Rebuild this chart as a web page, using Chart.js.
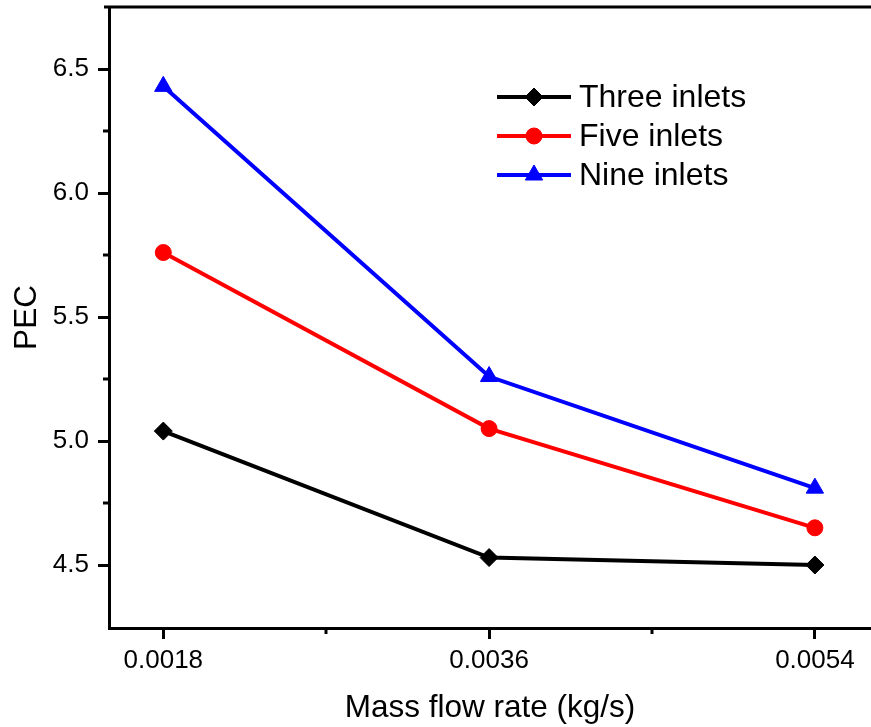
<!DOCTYPE html>
<html>
<head>
<meta charset="utf-8">
<script src="https://cdn.jsdelivr.net/npm/chart.js@4.4.1/dist/chart.umd.min.js"></script>
<style>
	html, body { margin: 0; padding: 0; background: #fff; overflow: hidden; }
	#wrap { width: 871px; height: 727px; position: relative; }
	#chart { display: block; }
</style>
</head>
<body>
<div id="wrap"><canvas id="chart"></canvas></div>
<script>
	// data
	var flowRates = [0.0018, 0.0036, 0.0054];
	var threeInlets = [5.04, 4.53, 4.50];
	var fiveInlets = [5.76, 5.05, 4.65];
	var nineInlets = [6.43, 5.26, 4.81];
	var seriesNames = ['Three inlets', 'Five inlets', 'Nine inlets'];
	var yTicks = [4.5, 5.0, 5.5, 6.0, 6.5];
	var yMinorTicks = [4.75, 5.25, 5.75, 6.25];
	var xMinorTicks = [0.0027, 0.0045];

	var fontFamily = '"Liberation Sans", Arial, sans-serif';

	function toPoints(values) {
		return flowRates.map(function (x, i) {
			return { x: x, y: values[i] };
		});
	}

	function makeSeries(label, values, color, style, radius) {
		return {
			label: label,
			data: toPoints(values),
			borderColor: color,
			backgroundColor: color,
			borderWidth: 4,
			pointStyle: style,
			pointRadius: radius,
			pointHoverRadius: radius,
			pointBorderWidth: 1,
			tension: 0
		};
	}

	/**
	 * Frame top line and minor ticks
	 */
	var framePlugin = {
		id: 'frame',
		afterDraw: function (chart) {
			var ctx = chart.ctx,
				area = chart.chartArea,
				xs = chart.scales.x,
				ys = chart.scales.y;

			ctx.save();
			ctx.strokeStyle = '#000';
			ctx.lineWidth = 3;
			ctx.lineCap = 'butt';

			ctx.beginPath();
			ctx.moveTo(area.left - 5, area.top);
			ctx.lineTo(area.right, area.top);
			ctx.stroke();

			yMinorTicks.forEach(function (v) {
				var py = Math.round(ys.getPixelForValue(v));
				ctx.beginPath();
				ctx.moveTo(area.left, py);
				ctx.lineTo(area.left - 6, py);
				ctx.stroke();
			});

			xMinorTicks.forEach(function (v) {
				var px = Math.round(xs.getPixelForValue(v));
				ctx.beginPath();
				ctx.moveTo(px, area.bottom);
				ctx.lineTo(px, area.bottom + 6);
				ctx.stroke();
			});
			ctx.restore();
		}
	};

	/**
	 * Legend drawn inside the plot, line plus marker
	 */
	var legendPlugin = {
		id: 'insideLegend',
		afterDraw: function (chart) {
			var ctx = chart.ctx,
				startY = 97,
				rowGap = 39;

			ctx.save();
			chart.data.datasets.forEach(function (ds, i) {
				var y = startY + i * rowGap;

				ctx.strokeStyle = ds.borderColor;
				ctx.lineWidth = 4;
				ctx.beginPath();
				ctx.moveTo(497, y);
				ctx.lineTo(571, y);
				ctx.stroke();

				ctx.fillStyle = ds.backgroundColor;
				ctx.strokeStyle = ds.borderColor;
				ctx.lineWidth = 1;
				Chart.helpers.drawPoint(ctx, {
					pointStyle: ds.pointStyle,
					rotation: 0,
					radius: ds.pointRadius,
					borderWidth: 1
				}, 534, y);

				ctx.fillStyle = '#000';
				ctx.font = '32px ' + fontFamily;
				ctx.textBaseline = 'middle';
				ctx.textAlign = 'left';
				ctx.fillText(ds.label, 579, y + 1);
			});
			ctx.restore();
		}
	};

	new Chart(document.getElementById('chart'), {
		type: 'line',
		data: {
			datasets: [
				makeSeries(seriesNames[0], threeInlets, '#000000', 'rectRot', 9),
				makeSeries(seriesNames[1], fiveInlets, '#ff0000', 'circle', 8),
				makeSeries(seriesNames[2], nineInlets, '#0000ff', 'triangle', 10)
			]
		},
		options: {
			responsive: true,
			maintainAspectRatio: false,
			animation: false,
			layout: {
				autoPadding: false,
				padding: { top: 7, right: 0, left: 0, bottom: 0 }
			},
			plugins: {
				legend: { display: false },
				tooltip: { enabled: false }
			},
			scales: {
				x: {
					type: 'linear',
					min: 0.0015,
					max: 0.00571,
					afterBuildTicks: function (scale) {
						scale.ticks = flowRates.map(function (v) { return { value: v }; });
					},
					afterFit: function (scale) {
						scale.height = 99;
						scale.paddingLeft = 0;
						scale.paddingRight = 0;
					},
					ticks: {
						color: '#000',
						padding: 6,
						maxRotation: 0,
						font: { family: fontFamily, size: 26 },
						callback: function (v) { return Number(v).toFixed(4); }
					},
					grid: {
						drawOnChartArea: false,
						tickLength: 11,
						tickWidth: 3,
						tickColor: '#000'
					},
					border: { display: true, color: '#000', width: 3 },
					title: {
						display: true,
						text: 'Mass flow rate (kg/s)',
						color: '#000',
						font: { family: fontFamily, size: 31.5 },
						padding: { top: 0, bottom: 0 }
					}
				},
				y: {
					min: 4.246,
					max: 6.75,
					afterBuildTicks: function (scale) {
						scale.ticks = yTicks.map(function (v) { return { value: v }; });
					},
					afterFit: function (scale) {
						scale.width = 109;
						scale.paddingTop = 0;
						scale.paddingBottom = 0;
					},
					ticks: {
						color: '#000',
						padding: 9,
						font: { family: fontFamily, size: 26 },
						callback: function (v) { return Number(v).toFixed(1); }
					},
					grid: {
						drawOnChartArea: false,
						tickLength: 11,
						tickWidth: 3,
						tickColor: '#000'
					},
					border: { display: true, color: '#000', width: 3 },
					title: {
						display: true,
						text: 'PEC',
						color: '#000',
						font: { family: fontFamily, size: 31.5 },
						padding: { top: 8, bottom: 0 }
					}
				}
			}
		},
		plugins: [framePlugin, legendPlugin]
	});
</script>
</body>
</html>
